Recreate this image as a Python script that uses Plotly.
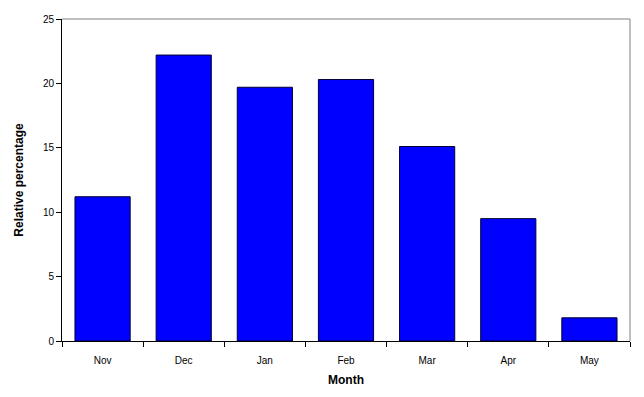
import plotly.graph_objects as go

months = ["Nov", "Dec", "Jan", "Feb", "Mar", "Apr", "May"]
values = [11.2, 22.2, 19.7, 20.3, 15.1, 9.5, 1.8]
y_ticks = [0, 5, 10, 15, 20, 25]

fig = go.Figure(go.Bar(
    x=months, y=values,
    marker=dict(color="#0000FF", line=dict(color="#000033", width=1)),
))

fig.update_layout(
    width=644, height=397,
    margin=dict(l=62, r=14, t=19, b=56),
    paper_bgcolor="white", plot_bgcolor="white",
    bargap=0.32,
    showlegend=False,
    font=dict(family="Arial, Liberation Sans, sans-serif", size=10, color="black"),
    xaxis=dict(
        showline=True, linecolor="black", linewidth=1,
        ticks="outside", tickson="boundaries", ticklen=5, tickcolor="black",
        ticklabelstandoff=10,
        showgrid=False,
        title=dict(text="<b>Month</b>", font=dict(size=12), standoff=10),
    ),
    yaxis=dict(
        range=[0, 25], tickvals=y_ticks,
        showline=True, linecolor="black", linewidth=1,
        ticks="outside", ticklen=5, tickcolor="black",
        showgrid=False, zeroline=False,
        title=dict(text="<b>Relative percentage</b>", font=dict(size=12), standoff=16),
    ),
    shapes=[
        dict(type="line", xref="paper", yref="paper", x0=0, x1=1, y0=1, y1=1,
             line=dict(color="#808080", width=1)),
        dict(type="line", xref="paper", yref="paper", x0=1, x1=1, y0=0, y1=1,
             line=dict(color="#808080", width=1)),
    ],
)

fig.write_html("out.html")
